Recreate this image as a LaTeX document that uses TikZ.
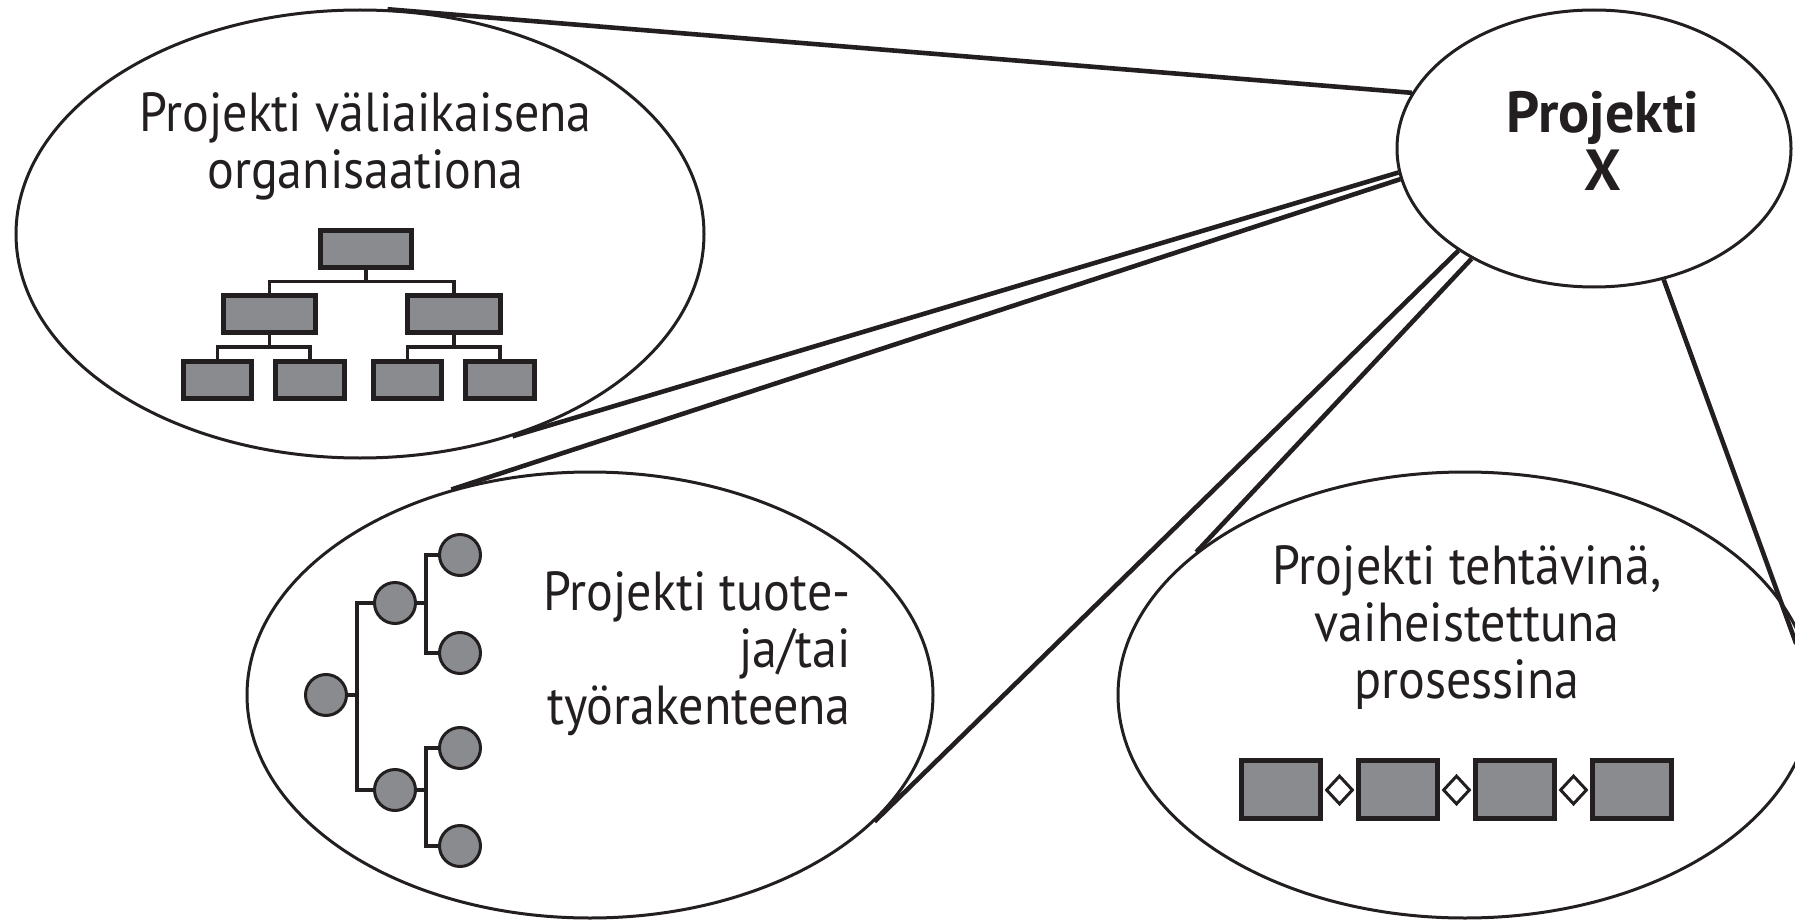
\documentclass[tikz,border=0pt]{standalone}
\usepackage{fontspec}
\setmainfont{PT Sans}[FakeStretch=0.91]
\newfontfamily\xfont{PT Sans}[FakeStretch=1.0]
\usetikzlibrary{shapes.geometric}
\definecolor{boxgray}{RGB}{138,139,142}
\definecolor{ink}{RGB}{35,31,32}
\begin{document}
\begin{tikzpicture}[x=0.5pt,y=-0.5pt,
  bub/.style={ellipse, draw=ink, line width=1.5pt, inner sep=0pt},
  conn/.style={draw=ink, line width=2.3pt},
  obox/.style={rectangle, draw=ink, fill=boxgray, line width=2.5pt, inner sep=0pt, minimum height=18.5pt},
  oline/.style={draw=ink, line width=1.9pt},
  tdot/.style={circle, draw=ink, fill=boxgray, line width=1.5pt, inner sep=0pt, minimum size=20.5pt},
  tline/.style={draw=ink, line width=2.2pt},
  pbox/.style={rectangle, draw=ink, fill=boxgray, line width=2.5pt, inner sep=0pt, minimum width=39.5pt, minimum height=29pt},
  pgate/.style={diamond, draw=ink, fill=white, line width=1.5pt, inner sep=0pt, minimum width=13.5pt, minimum height=14.5pt},
  txt/.style={font=\fontsize{27.5pt}{28.5pt}\selectfont, text=ink, inner sep=0pt},
]
\useasboundingbox (0,0) rectangle (1795,920);
\clip (0,0) rectangle (1795,920);

% bubbles
\node[bub, minimum width=344pt, minimum height=224pt] (A) at (360,234) {};
\node[bub, minimum width=343pt, minimum height=223pt] (B) at (590,695) {};
\node[bub, minimum width=347pt, minimum height=223pt] (C) at (1465,695) {};
\node[bub, minimum width=197pt, minimum height=138.5pt] (X) at (1594,148.5) {};

% connectors
\draw[conn] (X.163) -- (A.83);
\draw[conn] (X.187) -- (A.307);
\draw[conn] (X.189) -- (B.124);
\draw[conn] (X.217) -- (B.336);
\draw[conn] (X.222) -- (C.152);
\draw[conn, shorten >=-24pt] (X.298) -- (C.17);

% texts
\node[txt, align=center, anchor=base] (tA) at (365.5,189) {Projekti väliaikaisena\\organisaationa};
\node[txt, align=right, anchor=base east] (tB) at (851,724) {Projekti tuote-\\ja/tai\\työrakenteena};
\node[txt, align=center, anchor=base] (tC) at (1467,698) {Projekti tehtävinä,\\vaiheistettuna\\prosessina};
\node[txt, font=\fontsize{29pt}{29pt}\xfont\bfseries, align=center, anchor=base] (tX) at (1603,191) {Projekti\\X};

% organisation chart
\node[obox, minimum width=45.5pt] (o1) at (366,248.5) {};
\node[obox, minimum width=46pt] (o2) at (269.5,314) {};
\node[obox, minimum width=46.5pt] (o3) at (454,314) {};
\node[obox, minimum width=34pt] (o4) at (217.5,380) {};
\node[obox, minimum width=34.5pt] (o5) at (310,380) {};
\node[obox, minimum width=34pt] (o6) at (407.5,380) {};
\node[obox, minimum width=34.5pt] (o7) at (500,380) {};
\draw[oline] (o1.south) -- ++(0,12) -| (o2.north);
\draw[oline] (o1.south) -- ++(0,12) -| (o3.north);
\draw[oline] (o2.south) -- ++(0,12) -| (o4.north);
\draw[oline] (o2.south) -- ++(0,12) -| (o5.north);
\draw[oline] (o3.south) -- ++(0,12) -| (o6.north);
\draw[oline] (o3.south) -- ++(0,12) -| (o7.north);

% product / work breakdown tree
\node[tdot] (r) at (326,695) {};
\node[tdot] (m1) at (395,603) {};
\node[tdot] (m2) at (395,790) {};
\node[tdot] (l1) at (460,555) {};
\node[tdot] (l2) at (460,653) {};
\node[tdot] (l3) at (460,748) {};
\node[tdot] (l4) at (460,846) {};
\coordinate (s1t) at (357,603);
\coordinate (s1b) at (357,790);
\coordinate (s2a) at (426,555);
\coordinate (s2b) at (426,653);
\coordinate (s2c) at (426,748);
\coordinate (s2d) at (426,846);
\draw[tline] (m1) -- (s1t) -- (s1b) -- (m2);
\draw[tline] (r) -- (r -| s1t);
\draw[tline] (l1) -- (s2a) -- (s2b) -- (l2);
\draw[tline] (m1) -- (m1 -| s2a);
\draw[tline] (l3) -- (s2c) -- (s2d) -- (l4);
\draw[tline] (m2) -- (m2 -| s2c);

% phased process
\node[pbox] (p1) at (1281,789.5) {};
\node[pbox] (p2) at (1398,789.5) {};
\node[pbox] (p3) at (1515,789.5) {};
\node[pbox] (p4) at (1632,789.5) {};
\node[pgate] (g1) at (1339.5,790) {};
\node[pgate] (g2) at (1456.5,790) {};
\node[pgate] (g3) at (1573.5,790) {};
\end{tikzpicture}
\end{document}
